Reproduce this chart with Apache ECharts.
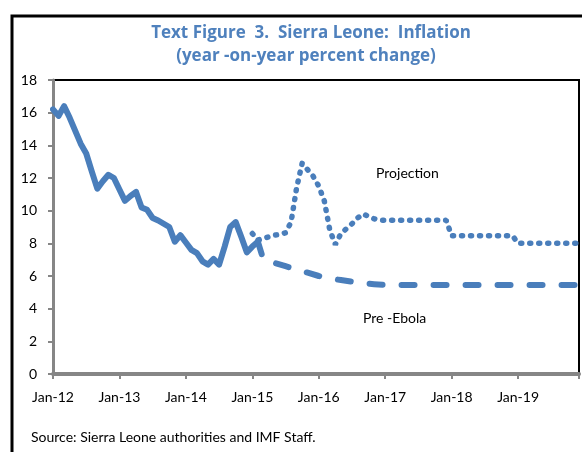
<!DOCTYPE html>
<html>
<head>
<meta charset="utf-8">
<script src="https://cdn.jsdelivr.net/npm/echarts@6/dist/echarts.min.js"></script>
<style>
  html, body { margin: 0; padding: 0; background: #fff; }
  #chart { width: 582px; height: 452px; }
</style>
</head>
<body>
<div id="chart"></div>
<script>
// months counted from Jan-12 (0 = Jan-12)
const xTickLabels = ['Jan-12', 'Jan-13', 'Jan-14', 'Jan-15', 'Jan-16', 'Jan-17', 'Jan-18', 'Jan-19']
const yTickLabels = [0, 2, 4, 6, 8, 10, 12, 14, 16, 18]

// actual, monthly Jan-12 .. Feb-15
const actualValues = [
  16.2, 15.8, 16.4, 15.7, 14.9, 14.1, 13.5, 12.4, 11.35, 11.8, 12.2, 12.0,
  11.3, 10.6, 10.9, 11.15, 10.2, 10.05, 9.55, 9.4, 9.2, 9.0, 8.1, 8.5,
  8.05, 7.6, 7.4, 6.9, 6.7, 7.05, 6.7, 7.8, 9.0, 9.3, 8.4, 7.45,
  7.8, 8.1
]

// projection
const projectionMonths = [36, 37, 38, 39, 40, 41, 42, 43, 44, 45, 46, 47, 48, 49, 50, 51, 52, 53, 54, 55, 56, 57, 58, 59, 71, 72, 83, 84, 95]
const projectionValues = [8.6, 8.2, 8.3, 8.4, 8.5, 8.55, 8.65, 9.3, 11.4, 12.9, 12.5, 12.1, 11.5, 10.6, 8.8, 7.93, 8.6, 8.9, 9.2, 9.55, 9.8, 9.65, 9.5, 9.42, 9.42, 8.46, 8.46, 8.0, 8.0]

// pre-Ebola
const preEbolaMonths = [37, 38, 40, 42, 44, 46, 48, 50, 52, 54, 56, 58, 60, 95]
const preEbolaValues = [8.1, 7.0, 6.8, 6.6, 6.4, 6.2, 6.0, 5.85, 5.75, 5.65, 5.55, 5.5, 5.45, 5.45]

function pairs(months, values) {
  return values.map((v, i) => [months[i], v])
}

const lineColor = '#4a7ebb'
const titleColor = '#4f81bd'
const font = 'Lato'
const titleFont = 'bold 17px "Open Sans"'

const chart = echarts.init(document.getElementById('chart'))
const option = {
  animation: false,
  textStyle: { fontFamily: font },
  grid: {
    left: 53,
    top: 80,
    right: -1,
    bottom: 78,
    show: true,
    borderColor: '#000',
    borderWidth: 2
  },
  xAxis: {
    type: 'value',
    min: 0,
    max: 95,
    interval: 12,
    axisLine: { lineStyle: { color: '#868686', width: 4 } },
    axisTick: { length: 5, lineStyle: { color: '#868686', width: 2 } },
    splitLine: { show: false },
    axisLabel: {
      margin: 16,
      color: '#000',
      fontSize: 14,
      fontFamily: font,
      formatter: function(v) {
        if (v % 12 !== 0) return ''
        return xTickLabels[v / 12] || ''
      }
    }
  },
  yAxis: {
    type: 'value',
    min: 0,
    max: 18,
    interval: 2,
    axisLine: { show: true, lineStyle: { color: '#868686', width: 3 } },
    axisTick: { show: true, length: 5, lineStyle: { color: '#868686', width: 2 } },
    splitLine: { show: false },
    axisLabel: {
      margin: 16,
      color: '#000',
      fontSize: 14,
      fontFamily: font,
      formatter: function(v) {
        return String(yTickLabels[v / 2])
      }
    }
  },
  graphic: [
    {
      type: 'rect',
      z: -10,
      shape: { x: 12, y: 16, width: 700, height: 500 },
      style: { fill: 'none', stroke: '#000', lineWidth: 3 }
    },
    {
      type: 'text',
      x: 311,
      y: 33,
      style: {
        text: 'Text Figure  3.  Sierra Leone:  Inflation',
        fill: titleColor,
        font: titleFont,
        textAlign: 'center',
        textVerticalAlign: 'middle'
      }
    },
    {
      type: 'text',
      x: 306,
      y: 56,
      style: {
        text: '(year -on-year percent change)',
        fill: titleColor,
        font: titleFont,
        textAlign: 'center',
        textVerticalAlign: 'middle'
      }
    },
    {
      type: 'text',
      x: 376,
      y: 173,
      style: { text: 'Projection', fill: '#000', font: '14px Lato', textVerticalAlign: 'middle' }
    },
    {
      type: 'text',
      x: 363,
      y: 318,
      style: { text: 'Pre -Ebola', fill: '#000', font: '14px Lato', textVerticalAlign: 'middle' }
    },
    {
      type: 'text',
      x: 31,
      y: 437,
      style: { text: 'Source: Sierra Leone authorities and IMF Staff.', fill: '#000', font: '14px Lato', textVerticalAlign: 'middle' }
    }
  ],
  series: [
    {
      name: 'Pre-Ebola',
      type: 'line',
      data: pairs(preEbolaMonths, preEbolaValues),
      showSymbol: false,
      lineStyle: { color: lineColor, width: 6, type: [13, 19], cap: 'round' }
    },
    {
      name: 'Projection',
      type: 'line',
      data: pairs(projectionMonths, projectionValues),
      showSymbol: false,
      lineStyle: { color: lineColor, width: 5.5, type: [1, 8], cap: 'round' }
    },
    {
      name: 'Actual',
      type: 'line',
      data: actualValues.map((v, i) => [i, v]),
      showSymbol: false,
      lineStyle: { color: lineColor, width: 6, join: 'round', cap: 'round' }
    }
  ]
}
chart.setOption(option)
</script>
</body>
</html>
